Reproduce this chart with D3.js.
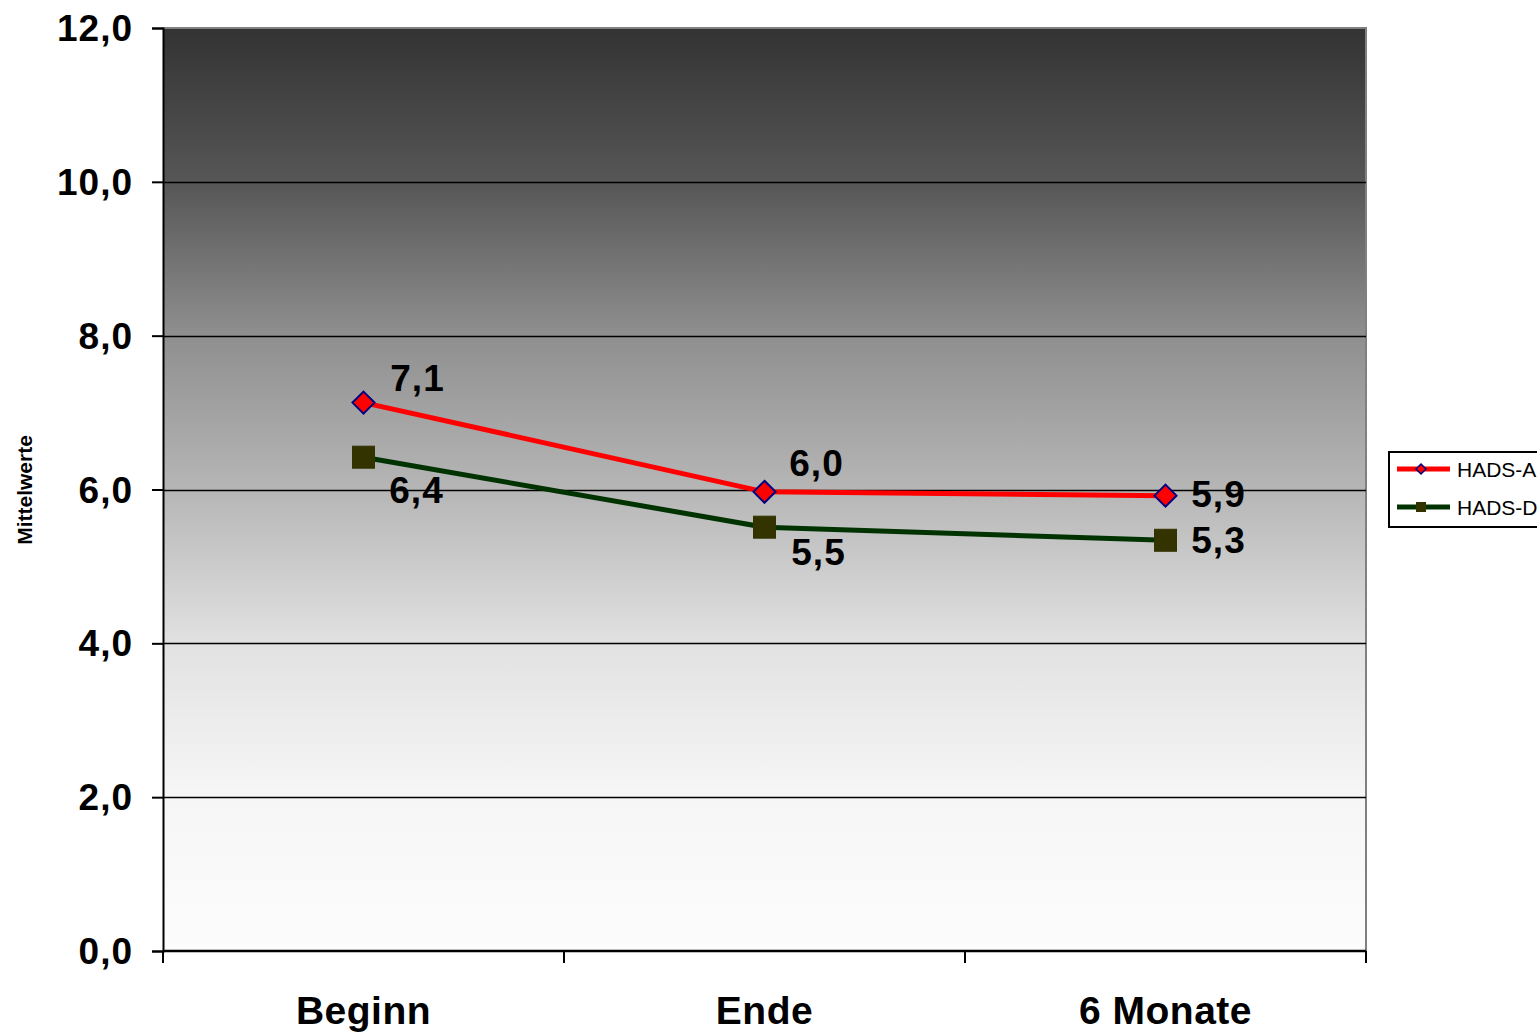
<!DOCTYPE html>
<html>
<head>
<meta charset="utf-8">
<script src="https://cdn.jsdelivr.net/npm/d3@7"></script>
<style>
  html, body { margin: 0; padding: 0; background: #ffffff; }
  svg { display: block; font-family: Arial, "Liberation Sans", sans-serif; }
</style>
</head>
<body>
<svg id="chart" width="1537" height="1032"></svg>
<script>
// Mean HADS scores at three time points
const categories = ["Beginn", "Ende", "6 Monate"];
const hadsA = [7.13, 5.97, 5.92];
const hadsD = [6.42, 5.51, 5.34];
const seriesNames = ["HADS-A", "HADS-D"];
const yTicks = [0, 2, 4, 6, 8, 10, 12];

const svg = d3.select("#chart");
const margin = { left: 163, top: 28, right: 1366, bottom: 951 };

const x = d3.scaleBand().domain(categories).range([margin.left, margin.right]);
const y = d3.scaleLinear().domain([0, 12]).range([margin.bottom, margin.top]);
const fmt = v => d3.format(".1f")(v).replace(".", ",");

// background gradient of the plot area
const defs = svg.append("defs");
const grad = defs.append("linearGradient").attr("id", "bg")
  .attr("x1", 0).attr("y1", 0).attr("x2", 0).attr("y2", 1);
[[0, "#333333"], [0.17, "#575757"], [0.33, "#8e8e8e"], [0.5, "#b6b6b6"],
 [0.67, "#e2e2e2"], [0.83, "#f6f6f6"], [1, "#fcfcfc"]]
  .forEach(([o, c]) => grad.append("stop").attr("offset", o).attr("stop-color", c));

svg.append("rect")
  .attr("x", margin.left).attr("y", margin.top)
  .attr("width", margin.right - margin.left).attr("height", margin.bottom - margin.top)
  .attr("fill", "url(#bg)");

// top and right frame
svg.append("path")
  .attr("d", `M${margin.left},${margin.top}H${margin.right}V${margin.bottom}`)
  .attr("fill", "none").attr("stroke", "#808080").attr("stroke-width", 2);

// gridlines
svg.append("g").selectAll("line").data(yTicks.filter(t => t > 0 && t < 12)).join("line")
  .attr("x1", margin.left).attr("x2", margin.right)
  .attr("y1", d => Math.round(y(d)) + 0.5).attr("y2", d => Math.round(y(d)) + 0.5)
  .attr("stroke", "#000").attr("stroke-width", 1.3);

// y axis
const yAxis = svg.append("g").attr("transform", `translate(${margin.left},0)`)
  .call(d3.axisLeft(y).tickValues(yTicks).tickFormat(fmt).tickSize(11).tickPadding(19));
yAxis.select(".domain").attr("stroke", "#000").attr("stroke-width", 2);
yAxis.selectAll(".tick line").attr("stroke", "#000").attr("stroke-width", 2);
yAxis.selectAll(".tick text").attr("font-size", 37).attr("font-weight", "bold")
  .attr("letter-spacing", 1).attr("dy", "0.34em")
  .attr("fill", "#000").attr("font-family", "Arial, 'Liberation Sans', sans-serif");

// x axis with ticks at band boundaries
const xAxisG = svg.append("g").attr("transform", `translate(0,${margin.bottom})`);
xAxisG.append("line").attr("x1", margin.left).attr("x2", margin.right)
  .attr("y1", 0).attr("y2", 0).attr("stroke", "#000").attr("stroke-width", 2.5);
const bounds = categories.map(c => x(c)).concat([margin.right]);
xAxisG.selectAll("line.tk").data(bounds).join("line").attr("class", "tk")
  .attr("x1", d => d).attr("x2", d => d).attr("y1", 0).attr("y2", 12)
  .attr("stroke", "#000").attr("stroke-width", 2);
xAxisG.selectAll("text").data(categories).join("text")
  .attr("x", d => x(d) + x.bandwidth() / 2).attr("y", 73)
  .attr("text-anchor", "middle").attr("font-size", 39).attr("font-weight", "bold")
  .attr("letter-spacing", 0.5)
  .attr("fill", "#000").text(d => d);

// y axis title
svg.append("text")
  .attr("transform", "translate(32,490) rotate(-90)")
  .attr("text-anchor", "middle").attr("font-size", 21).attr("font-weight", "bold")
  .text("Mittelwerte");

const cx = d => x(d) + x.bandwidth() / 2;
const line = d3.line().x(d => cx(d.c)).y(d => y(d.v));
const ptsA = categories.map((c, i) => ({ c, v: hadsA[i] }));
const ptsD = categories.map((c, i) => ({ c, v: hadsD[i] }));

// HADS-D series
svg.append("path").datum(ptsD).attr("d", line)
  .attr("fill", "none").attr("stroke", "#003300").attr("stroke-width", 5);
svg.append("g").selectAll("rect").data(ptsD).join("rect")
  .attr("x", d => cx(d.c) - 11).attr("y", d => y(d.v) - 11)
  .attr("width", 22).attr("height", 22)
  .attr("fill", "#333300").attr("stroke", "#333300").attr("stroke-width", 1);

// HADS-A series
svg.append("path").datum(ptsA).attr("d", line)
  .attr("fill", "none").attr("stroke", "#ff0000").attr("stroke-width", 5);
const diamond = "M0,-11L11,0L0,11L-11,0Z";
svg.append("g").selectAll("path").data(ptsA).join("path")
  .attr("transform", d => `translate(${cx(d.c)},${y(d.v)})`)
  .attr("d", diamond)
  .attr("fill", "#ff0000").attr("stroke", "#000080").attr("stroke-width", 2);

// value labels
const offA = [[54, -25], [52, -29], [53, -2]];
const offD = [[53, 32], [54, 24], [53, -1]];
function labels(pts, off) {
  svg.append("g").selectAll("text").data(pts).join("text")
    .attr("x", (d, i) => cx(d.c) + off[i][0])
    .attr("y", (d, i) => y(d.v) + off[i][1])
    .attr("dy", "0.36em")
    .attr("text-anchor", "middle").attr("font-size", 37).attr("font-weight", "bold")
    .attr("letter-spacing", 1)
    .attr("fill", "#000").text(d => fmt(d.v));
}
labels(ptsA, offA);
labels(ptsD, offD);

// legend
const lg = svg.append("g").attr("transform", "translate(1389,452)");
lg.append("rect").attr("x", 0).attr("y", 0).attr("width", 160).attr("height", 75)
  .attr("fill", "#fff").attr("stroke", "#000").attr("stroke-width", 2);
const legendItems = [
  { name: seriesNames[0], color: "#ff0000", y: 17, mark: "diamond" },
  { name: seriesNames[1], color: "#003300", y: 55, mark: "square" }
];
legendItems.forEach(it => {
  lg.append("line").attr("x1", 8).attr("x2", 61).attr("y1", it.y).attr("y2", it.y)
    .attr("stroke", it.color).attr("stroke-width", 5);
  if (it.mark === "diamond") {
    lg.append("path").attr("d", "M0,-5L5,0L0,5L-5,0Z")
      .attr("transform", `translate(32,${it.y})`)
      .attr("fill", "#ff0000").attr("stroke", "#000080").attr("stroke-width", 1.5);
  } else {
    lg.append("rect").attr("x", 27).attr("y", it.y - 5).attr("width", 10).attr("height", 10)
      .attr("fill", "#333300");
  }
  lg.append("text").attr("x", 68).attr("y", it.y).attr("dy", "0.36em")
    .attr("font-size", 21).attr("fill", "#000").text(it.name);
});
</script>
</body>
</html>
